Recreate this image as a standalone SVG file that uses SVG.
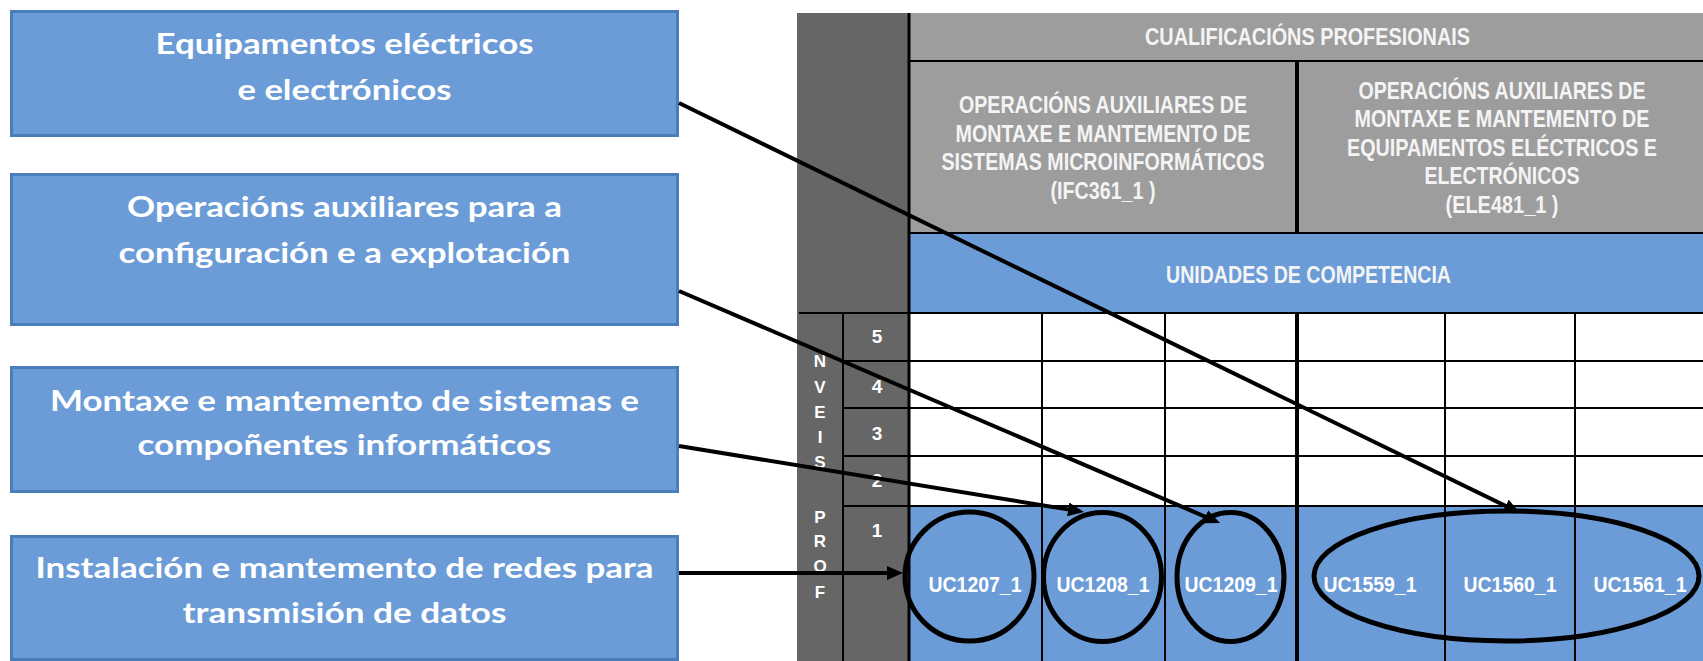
<svg xmlns="http://www.w3.org/2000/svg" width="1703" height="661" viewBox="0 0 1703 661">
<style>
.box{fill:#6B9CD8;stroke:#4A7EBB;stroke-width:3}
.bt{font-family:Lato,"Open Sans",sans-serif;font-weight:bold;font-size:29px;fill:#fff;text-anchor:middle}
.ht{font-family:"Liberation Sans",Arial,sans-serif;font-weight:bold;font-size:23px;fill:#f4f4f4;text-anchor:middle}
.uc{font-family:"Liberation Sans",Arial,sans-serif;font-weight:bold;font-size:22px;fill:#fff;text-anchor:middle}
.lt{font-family:"Liberation Sans",Arial,sans-serif;font-weight:bold;font-size:17px;fill:#fff;text-anchor:middle}
.nt{font-family:"Liberation Sans",Arial,sans-serif;font-weight:bold;font-size:19px;fill:#fff;text-anchor:middle}
.gl{stroke:#000;stroke-width:2;fill:none}
.gk{stroke:#000;stroke-width:4;fill:none}
.el{fill:none;stroke:#000;stroke-width:5}
.cn{stroke:#000;stroke-width:4;fill:none;marker-end:url(#ah)}
</style>
<defs>
<marker id="ah" markerUnits="userSpaceOnUse" markerWidth="16" markerHeight="14" viewBox="0 0 16 14" refX="6" refY="7" orient="auto">
<path d="M0,0 L16,7 L0,14 z" fill="#000"/>
</marker>
</defs>
<rect width="1703" height="661" fill="#fff"/>

<g id="table">
<rect x="797" y="13" width="112" height="648" fill="#666"/>
<rect x="909" y="13" width="794" height="220" fill="#9D9D9D"/>
<rect x="909" y="233" width="794" height="80" fill="#6B9CD8"/>
<rect x="909" y="313" width="794" height="193" fill="#fff"/>
<rect x="909" y="506" width="794" height="155" fill="#6B9CD8"/>
<line class="gl" x1="909" y1="61" x2="1703" y2="61"/>
<line class="gl" x1="909" y1="233" x2="1703" y2="233"/>
<line class="gl" x1="799" y1="313" x2="1703" y2="313"/>
<line class="gl" x1="843" y1="361" x2="1703" y2="361"/>
<line class="gl" x1="843" y1="408" x2="1703" y2="408"/>
<line class="gl" x1="843" y1="456" x2="1703" y2="456"/>
<line class="gl" x1="843" y1="506" x2="1703" y2="506"/>
<line class="gl" x1="843" y1="313" x2="843" y2="661"/>
<line class="gk" x1="909" y1="13" x2="909" y2="661" style="stroke-width:3"/>
<line class="gl" x1="1042" y1="313" x2="1042" y2="661"/>
<line class="gl" x1="1165" y1="313" x2="1165" y2="661"/>
<line class="gk" x1="1297" y1="61" x2="1297" y2="233"/>
<line class="gk" x1="1297" y1="313" x2="1297" y2="661"/>
<line class="gl" x1="1445" y1="313" x2="1445" y2="661"/>
<line class="gl" x1="1575" y1="313" x2="1575" y2="661"/>

<text class="ht" x="1307.5" y="45" textLength="325" lengthAdjust="spacingAndGlyphs">CUALIFICACIÓNS PROFESIONAIS</text>
<text class="ht" x="1103" y="113" textLength="288" lengthAdjust="spacingAndGlyphs">OPERACIÓNS AUXILIARES DE</text>
<text class="ht" x="1103" y="142" textLength="295" lengthAdjust="spacingAndGlyphs">MONTAXE E MANTEMENTO DE</text>
<text class="ht" x="1103" y="170" textLength="323" lengthAdjust="spacingAndGlyphs">SISTEMAS MICROINFORMÁTICOS</text>
<text class="ht" x="1103" y="199" textLength="105" lengthAdjust="spacingAndGlyphs">(IFC361_1 )</text>
<text class="ht" x="1502" y="99" textLength="287" lengthAdjust="spacingAndGlyphs">OPERACIÓNS AUXILIARES DE</text>
<text class="ht" x="1502" y="127" textLength="295" lengthAdjust="spacingAndGlyphs">MONTAXE E MANTEMENTO DE</text>
<text class="ht" x="1502" y="156" textLength="310" lengthAdjust="spacingAndGlyphs">EQUIPAMENTOS ELÉCTRICOS E</text>
<text class="ht" x="1502" y="184" textLength="155" lengthAdjust="spacingAndGlyphs">ELECTRÓNICOS</text>
<text class="ht" x="1502" y="213" textLength="113" lengthAdjust="spacingAndGlyphs">(ELE481_1 )</text>
<text class="ht" x="1308.5" y="283" textLength="285" lengthAdjust="spacingAndGlyphs">UNIDADES DE COMPETENCIA</text>

<text class="lt" x="820" y="367">N</text>
<text class="lt" x="820" y="393">V</text>
<text class="lt" x="820" y="418">E</text>
<text class="lt" x="820" y="443">I</text>
<text class="lt" x="820" y="468">S</text>
<text class="lt" x="820" y="523">P</text>
<text class="lt" x="820" y="547">R</text>
<text class="lt" x="820" y="572">O</text>
<text class="lt" x="820" y="598">F</text>

<text class="nt" x="877" y="343">5</text>
<text class="nt" x="877" y="393">4</text>
<text class="nt" x="877" y="440">3</text>
<text class="nt" x="877" y="487">2</text>
<text class="nt" x="877" y="537">1</text>
</g>

<g id="uc1207"><ellipse class="el" cx="969.5" cy="576.5" rx="64.5" ry="64.5"/><text class="uc" x="975" y="592" textLength="93" lengthAdjust="spacingAndGlyphs">UC1207_1</text></g>
<g id="uc1208"><ellipse class="el" cx="1102.5" cy="577" rx="59" ry="64.5"/><text class="uc" x="1103" y="592" textLength="93" lengthAdjust="spacingAndGlyphs">UC1208_1</text></g>
<g id="uc1209"><ellipse class="el" cx="1230.5" cy="577" rx="53.5" ry="64.5"/><text class="uc" x="1231" y="592" textLength="93" lengthAdjust="spacingAndGlyphs">UC1209_1</text></g>
<g id="uc-ele"><ellipse class="el" cx="1506.5" cy="576" rx="192.5" ry="65"/>
<text class="uc" x="1370" y="592" textLength="93" lengthAdjust="spacingAndGlyphs">UC1559_1</text>
<text class="uc" x="1510" y="592" textLength="93" lengthAdjust="spacingAndGlyphs">UC1560_1</text>
<text class="uc" x="1640" y="592" textLength="93" lengthAdjust="spacingAndGlyphs">UC1561_1</text></g>

<g id="box-equipamentos"><rect class="box" x="11.5" y="11.5" width="666" height="124"/>
<text class="bt" x="344.5" y="54" textLength="378" lengthAdjust="spacingAndGlyphs">Equipamentos eléctricos</text>
<text class="bt" x="344.5" y="100" textLength="214" lengthAdjust="spacingAndGlyphs">e electrónicos</text></g>
<g id="box-operacions"><rect class="box" x="11.5" y="174.5" width="666" height="150"/>
<text class="bt" x="344.5" y="217" textLength="435" lengthAdjust="spacingAndGlyphs">Operacións auxiliares para a</text>
<text class="bt" x="344.5" y="263" textLength="452" lengthAdjust="spacingAndGlyphs">configuración e a explotación</text></g>
<g id="box-montaxe"><rect class="box" x="11.5" y="367.5" width="666" height="124"/>
<text class="bt" x="344.5" y="411" textLength="589" lengthAdjust="spacingAndGlyphs">Montaxe e mantemento de sistemas e</text>
<text class="bt" x="344.5" y="455" textLength="414" lengthAdjust="spacingAndGlyphs">compoñentes informáticos</text></g>
<g id="box-instalacion"><rect class="box" x="11.5" y="536.5" width="666" height="123"/>
<text class="bt" x="344.5" y="578" textLength="618" lengthAdjust="spacingAndGlyphs">Instalación e mantemento de redes para</text>
<text class="bt" x="344.5" y="623" textLength="324" lengthAdjust="spacingAndGlyphs">transmisión de datos</text></g>

<g id="connectors">
<line class="cn" x1="679" y1="103" x2="1511" y2="508.6"/>
<line class="cn" x1="679" y1="291" x2="1210.8" y2="519.1"/>
<line class="cn" x1="679" y1="446" x2="1074.1" y2="510.4"/>
<line class="cn" x1="679" y1="573" x2="893" y2="573"/>
</g>
</svg>
